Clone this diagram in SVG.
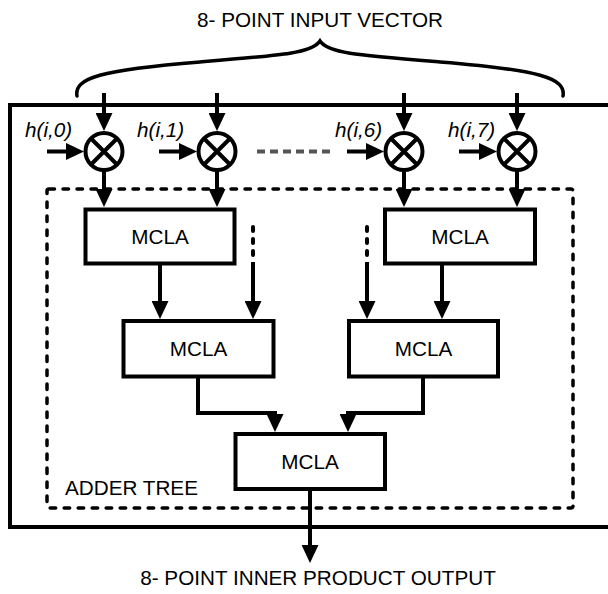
<svg xmlns="http://www.w3.org/2000/svg" width="608" height="594" viewBox="0 0 608 594">
  <style>
    .frame { fill: none; stroke: #000; stroke-width: 4; }
    .box { fill: #fff; stroke: #000; stroke-width: 4; }
    .tree { fill: none; stroke: #000; stroke-width: 3.5; stroke-linecap: round; stroke-dasharray: 5.5 8.5; }
    .wire { fill: none; stroke: #000; stroke-width: 4; stroke-linejoin: miter; }
    .arrow { marker-end: url(#head); }
    .dots { fill: none; stroke: #000; stroke-width: 4; stroke-linecap: round; stroke-dasharray: 4 8; }
    .skip { fill: none; stroke: #555; stroke-width: 4; stroke-dasharray: 8 5; }
    .mult { fill: #fff; stroke: #000; stroke-width: 4; }
    .label { font-family: "Liberation Sans", Arial, sans-serif; font-size: 20.7px; fill: #000; }
    .coef { font-family: "Liberation Sans", Arial, sans-serif; font-size: 20.7px; font-style: italic; fill: #000; }
  </style>
  <defs>
    <marker id="head" markerUnits="userSpaceOnUse" markerWidth="18" markerHeight="17" refX="8" refY="8.5" orient="auto" viewBox="0 0 18 17">
      <path d="M0,0 L18,8.5 L0,17 z" fill="#000"/>
    </marker>
    <g id="multiplier">
      <circle r="18.5" class="mult"/>
      <path d="M-13,-13 L13,13 M13,-13 L-13,13" stroke="#000" stroke-width="4"/>
    </g>
  </defs>

  <!-- titles -->
  <text class="label" x="320" y="27" text-anchor="middle">8- POINT INPUT VECTOR</text>
  <text class="label" x="318" y="585" text-anchor="middle">8- POINT INNER PRODUCT OUTPUT</text>

  <!-- brace grouping the inputs -->
  <path d="M77,96 C74,78 100,70 200,62 C285,55 312,53 320,41 C328,53 355,55 440,62 C540,70 566,78 563,96" fill="none" stroke="#000" stroke-width="3.5" stroke-linecap="round"/>

  <!-- outer block -->
  <path class="frame" d="M612,105 H10 V527 H612"/>

  <!-- adder tree boundary -->
  <g id="adder-tree">
    <rect class="tree" x="47" y="189" width="526" height="319" rx="2"/>
    <text class="label" x="65" y="495">ADDER TREE</text>
  </g>

  <!-- connectors -->
  <g id="connectors">
    <!-- vector inputs -->
    <line class="wire arrow" x1="104" y1="93" x2="104" y2="121"/>
    <line class="wire arrow" x1="217" y1="93" x2="217" y2="121"/>
    <line class="wire arrow" x1="404" y1="93" x2="404" y2="121"/>
    <line class="wire arrow" x1="517" y1="93" x2="517" y2="121"/>
    <!-- coefficient inputs -->
    <line class="wire arrow" x1="47" y1="151.5" x2="74" y2="151.5"/>
    <line class="wire arrow" x1="159" y1="151.5" x2="187" y2="151.5"/>
    <line class="wire arrow" x1="347" y1="151.5" x2="374" y2="151.5"/>
    <line class="wire arrow" x1="459" y1="151.5" x2="487" y2="151.5"/>
    <!-- elided multipliers -->
    <line class="skip" x1="257" y1="151.5" x2="333" y2="151.5"/>
    <!-- products into first adder level -->
    <line class="wire arrow" x1="104" y1="170" x2="104" y2="197"/>
    <line class="wire arrow" x1="217" y1="170" x2="217" y2="197"/>
    <line class="wire arrow" x1="404" y1="170" x2="404" y2="197"/>
    <line class="wire arrow" x1="517" y1="170" x2="517" y2="197"/>
    <!-- first level into second level -->
    <line class="wire arrow" x1="160" y1="264" x2="160" y2="309"/>
    <line class="wire arrow" x1="442" y1="264" x2="442" y2="309"/>
    <line class="dots" x1="253" y1="227" x2="253" y2="256"/>
    <line class="wire arrow" x1="253" y1="262" x2="253" y2="309"/>
    <line class="dots" x1="367" y1="227" x2="367" y2="256"/>
    <line class="wire arrow" x1="367" y1="262" x2="367" y2="309"/>
    <!-- second level into final adder -->
    <path class="wire arrow" d="M198,377 V413 H275 V422"/>
    <path class="wire arrow" d="M423,377 V413 H348 V422"/>
    <!-- result -->
    <line class="wire arrow" x1="310" y1="489" x2="310" y2="553"/>
  </g>

  <!-- multipliers -->
  <g id="mult-0"><use href="#multiplier" x="104" y="151.5"/><text class="coef" x="25" y="137">h(i,0)</text></g>
  <g id="mult-1"><use href="#multiplier" x="217" y="151.5"/><text class="coef" x="137" y="137">h(i,1)</text></g>
  <g id="mult-6"><use href="#multiplier" x="404" y="151.5"/><text class="coef" x="335" y="137">h(i,6)</text></g>
  <g id="mult-7"><use href="#multiplier" x="517" y="151.5"/><text class="coef" x="448" y="137">h(i,7)</text></g>

  <!-- adders -->
  <g id="mcla-1a"><rect class="box" x="85.5" y="209.5" width="149" height="54"/><text class="label" x="160" y="244" text-anchor="middle">MCLA</text></g>
  <g id="mcla-1b"><rect class="box" x="385" y="209.5" width="150" height="54"/><text class="label" x="460" y="244" text-anchor="middle">MCLA</text></g>
  <g id="mcla-2a"><rect class="box" x="123.5" y="321" width="150" height="55.5"/><text class="label" x="198.5" y="356" text-anchor="middle">MCLA</text></g>
  <g id="mcla-2b"><rect class="box" x="349" y="321" width="149" height="55.5"/><text class="label" x="423.5" y="356" text-anchor="middle">MCLA</text></g>
  <g id="mcla-3"><rect class="box" x="235.5" y="434" width="149.5" height="55"/><text class="label" x="310" y="469" text-anchor="middle">MCLA</text></g>
</svg>
